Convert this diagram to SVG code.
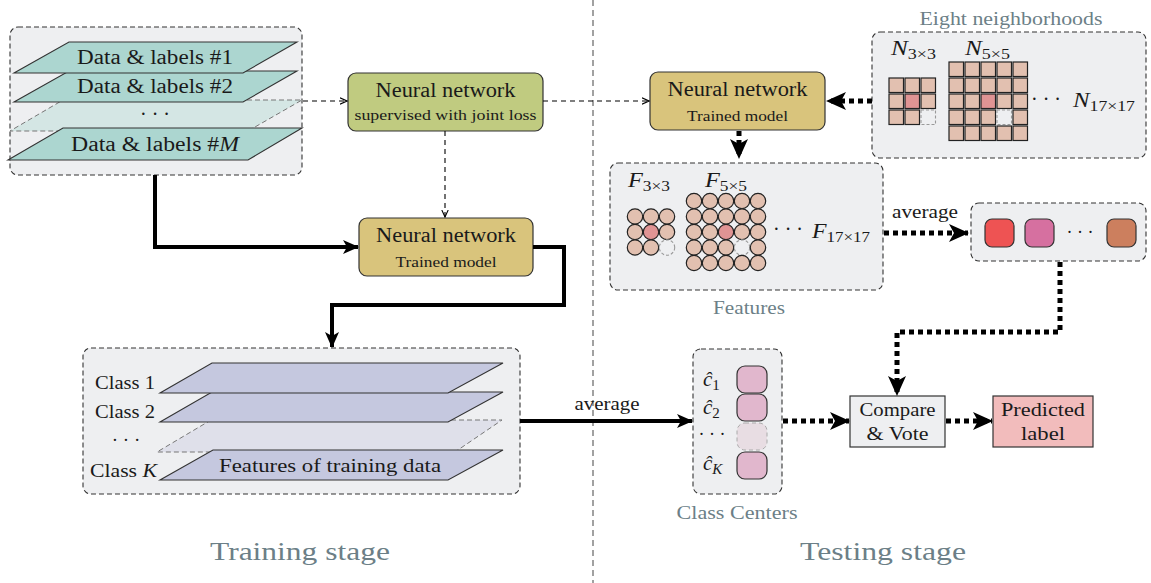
<svg xmlns="http://www.w3.org/2000/svg" width="1151" height="583" viewBox="0 0 1151 583">
<style>
.t{font-family:"Liberation Serif","DejaVu Serif",serif;fill:#1a1a1a}
.i{font-style:italic}
.lbl{fill:#6c7f87}
.cont{fill:#eeeff1;stroke:#333;stroke-width:1.1;stroke-dasharray:5 3}
.box{stroke:#333;stroke-width:1.2}
.pl{fill:#acd6d0;stroke:#333;stroke-width:1.1}
.pc{fill:#c5c8df;stroke:#333;stroke-width:1.1}
.pd{stroke:#777;stroke-width:1;stroke-dasharray:5 3}
.sq{fill:#e2c0b0;stroke:#222;stroke-width:1.2}
.dk{fill:#e09494}
.miss{fill:none;stroke:#999;stroke-width:1.1;stroke-dasharray:3 2}
.thin{fill:none;stroke:#000;stroke-width:1.1;stroke-dasharray:5 4}
.thick{fill:none;stroke:#000;stroke-width:4}
.dots{fill:none;stroke:#000;stroke-width:5;stroke-dasharray:5 4}
.sub{font-size:15px;font-style:normal}
.subi{font-size:15px;font-style:italic}
</style>
<defs>
<marker id="open" viewBox="0 0 8 8" refX="7.5" refY="4" markerWidth="8" markerHeight="8" markerUnits="userSpaceOnUse" orient="auto"><path d="M0.5,0.8 L7.5,4 L0.5,7.2" fill="none" stroke="#000" stroke-width="1.1"/></marker>
<marker id="solid" viewBox="0 0 16 14" refX="15" refY="7" markerWidth="16" markerHeight="14" markerUnits="userSpaceOnUse" orient="auto"><path d="M0,0 L16,7 L0,14 L4,7 Z" fill="#000"/></marker>
<marker id="big" viewBox="0 0 20 18" refX="19" refY="9" markerWidth="20" markerHeight="18" markerUnits="userSpaceOnUse" orient="auto"><path d="M0,0 L20,9 L0,18 L5,9 Z" fill="#000"/></marker>
</defs>

<!-- divider -->
<line x1="593" y1="0" x2="593" y2="583" stroke="#555" stroke-width="1.1" stroke-dasharray="6 4"/>

<!-- Training data -->
<g id="training-data">
<rect class="cont" x="10" y="27" width="292" height="148" rx="8"/>
<polygon points="63,100 302,100 248,131 10,131" fill="#d4e6e4" class="pd"/>
<polygon class="pl" points="63,128 302,128 248,160 8,160"/>
<polygon class="pl" points="69,71 297,71 243,102 14,102"/>
<polygon class="pl" points="69,42 297,42 243,73 14,73"/>
<text class="t" x="155" y="64" font-size="20" text-anchor="middle" textLength="156" lengthAdjust="spacingAndGlyphs">Data &amp; labels #1</text>
<text class="t" x="155" y="93" font-size="20" text-anchor="middle" textLength="156" lengthAdjust="spacingAndGlyphs">Data &amp; labels #2</text>
<text class="t" x="155" y="121" font-size="20" text-anchor="middle">· · ·</text>
<text class="t" x="155" y="151" font-size="20" text-anchor="middle" textLength="168" lengthAdjust="spacingAndGlyphs">Data &amp; labels #<tspan class="i">M</tspan></text>
</g>

<!-- NN supervised -->
<g id="nn-supervised">
<rect class="box" x="348" y="73" width="195" height="58" rx="8" fill="#c0cb80"/>
<text class="t" x="445.5" y="97" font-size="20" text-anchor="middle" textLength="140" lengthAdjust="spacingAndGlyphs">Neural network</text>
<text class="t" x="445.5" y="120" font-size="14" text-anchor="middle" textLength="182" lengthAdjust="spacingAndGlyphs">supervised with joint loss</text>
</g>

<!-- NN trained (training side) -->
<g id="nn-trained-train">
<rect class="box" x="359" y="218" width="174" height="58" rx="8" fill="#d9c47c"/>
<text class="t" x="446" y="242" font-size="20" text-anchor="middle" textLength="140" lengthAdjust="spacingAndGlyphs">Neural network</text>
<text class="t" x="446" y="267" font-size="14" text-anchor="middle" textLength="101" lengthAdjust="spacingAndGlyphs">Trained model</text>
</g>

<!-- Features of training data -->
<g id="train-features">
<rect class="cont" x="83" y="348" width="437" height="146" rx="8"/>
<polygon points="211,420 502,420 455,452 157,452" fill="#dfe0ea" class="pd"/>
<polygon class="pc" points="213,450 503,450 448,480 160,480"/>
<polygon class="pc" points="212,392 503,392 448,422 160,422"/>
<polygon class="pc" points="212,363 503,363 448,393 160,393"/>
<text class="t" x="155" y="389" font-size="19" text-anchor="end" textLength="60" lengthAdjust="spacingAndGlyphs">Class 1</text>
<text class="t" x="155" y="418" font-size="19" text-anchor="end" textLength="60" lengthAdjust="spacingAndGlyphs">Class 2</text>
<text class="t" x="126" y="446" font-size="19" text-anchor="middle">· · ·</text>
<text class="t" x="157" y="477" font-size="19" text-anchor="end" textLength="67" lengthAdjust="spacingAndGlyphs">Class <tspan class="i">K</tspan></text>
<text class="t" x="330" y="472" font-size="19" text-anchor="middle" textLength="222" lengthAdjust="spacingAndGlyphs">Features of training data</text>
</g>

<!-- NN trained (testing side) -->
<g id="nn-trained-test">
<rect class="box" x="650" y="72" width="175" height="58" rx="8" fill="#d9c47c"/>
<text class="t" x="737.5" y="96" font-size="20" text-anchor="middle" textLength="140" lengthAdjust="spacingAndGlyphs">Neural network</text>
<text class="t" x="737.5" y="121" font-size="14" text-anchor="middle" textLength="101" lengthAdjust="spacingAndGlyphs">Trained model</text>
</g>

<!-- Eight neighborhoods -->
<g id="neighborhoods">
<text class="t lbl" x="1011" y="25" font-size="18" text-anchor="middle" textLength="183" lengthAdjust="spacingAndGlyphs">Eight neighborhoods</text>
<rect class="cont" x="872" y="32" width="274" height="126" rx="8"/>
<text class="t" x="891" y="55" font-size="21" textLength="45" lengthAdjust="spacingAndGlyphs"><tspan class="i">N</tspan><tspan class="sub" dy="4">3×3</tspan></text>
<text class="t" x="965" y="55" font-size="21" textLength="45" lengthAdjust="spacingAndGlyphs"><tspan class="i">N</tspan><tspan class="sub" dy="4">5×5</tspan></text>
<g>
<rect class="sq" x="889" y="78" width="14.5" height="14.5"/><rect class="sq" x="905" y="78" width="14.5" height="14.5"/><rect class="sq" x="921" y="78" width="14.5" height="14.5"/>
<rect class="sq" x="889" y="94" width="14.5" height="14.5"/><rect class="sq dk" x="905" y="94" width="14.5" height="14.5"/><rect class="sq" x="921" y="94" width="14.5" height="14.5"/>
<rect class="sq" x="889" y="110" width="14.5" height="14.5"/><rect class="sq" x="905" y="110" width="14.5" height="14.5"/><rect class="miss" x="921" y="110" width="14.5" height="14.5"/>
</g>
<g>
<rect class="sq" x="949" y="62" width="14.5" height="14.5"/><rect class="sq" x="965" y="62" width="14.5" height="14.5"/><rect class="sq" x="981" y="62" width="14.5" height="14.5"/><rect class="sq" x="997" y="62" width="14.5" height="14.5"/><rect class="sq" x="1013" y="62" width="14.5" height="14.5"/>
<rect class="sq" x="949" y="78" width="14.5" height="14.5"/><rect class="sq" x="965" y="78" width="14.5" height="14.5"/><rect class="sq" x="981" y="78" width="14.5" height="14.5"/><rect class="sq" x="997" y="78" width="14.5" height="14.5"/><rect class="sq" x="1013" y="78" width="14.5" height="14.5"/>
<rect class="sq" x="949" y="94" width="14.5" height="14.5"/><rect class="sq" x="965" y="94" width="14.5" height="14.5"/><rect class="sq dk" x="981" y="94" width="14.5" height="14.5"/><rect class="sq" x="997" y="94" width="14.5" height="14.5"/><rect class="sq" x="1013" y="94" width="14.5" height="14.5"/>
<rect class="sq" x="949" y="110" width="14.5" height="14.5"/><rect class="sq" x="965" y="110" width="14.5" height="14.5"/><rect class="sq" x="981" y="110" width="14.5" height="14.5"/><rect class="miss" x="997" y="110" width="14.5" height="14.5"/><rect class="sq" x="1013" y="110" width="14.5" height="14.5"/>
<rect class="sq" x="949" y="126" width="14.5" height="14.5"/><rect class="sq" x="965" y="126" width="14.5" height="14.5"/><rect class="sq" x="981" y="126" width="14.5" height="14.5"/><rect class="sq" x="997" y="126" width="14.5" height="14.5"/><rect class="sq" x="1013" y="126" width="14.5" height="14.5"/>
</g>
<text class="t" x="1046" y="106" font-size="20" text-anchor="middle">· · ·</text>
<text class="t" x="1073" y="107" font-size="21" textLength="62" lengthAdjust="spacingAndGlyphs"><tspan class="i">N</tspan><tspan class="sub" dy="4">17×17</tspan></text>
</g>

<!-- Features (testing) -->
<g id="features">
<rect class="cont" x="610" y="163" width="273" height="127" rx="8"/>
<text class="t lbl" x="749" y="314" font-size="18" text-anchor="middle" textLength="72" lengthAdjust="spacingAndGlyphs">Features</text>
<text class="t" x="628" y="187" font-size="21" textLength="42" lengthAdjust="spacingAndGlyphs"><tspan class="i">F</tspan><tspan class="sub" dy="4">3×3</tspan></text>
<text class="t" x="705" y="187" font-size="21" textLength="42" lengthAdjust="spacingAndGlyphs"><tspan class="i">F</tspan><tspan class="sub" dy="4">5×5</tspan></text>
<g>
<circle class="sq" cx="635" cy="216.5" r="7.7"/><circle class="sq" cx="651" cy="216.5" r="7.7"/><circle class="sq" cx="667" cy="216.5" r="7.7"/>
<circle class="sq" cx="635" cy="232" r="7.7"/><circle class="sq dk" cx="651" cy="232" r="7.7"/><circle class="sq" cx="667" cy="232" r="7.7"/>
<circle class="sq" cx="635" cy="247.5" r="7.7"/><circle class="sq" cx="651" cy="247.5" r="7.7"/><circle class="miss" cx="667" cy="247.5" r="7.7"/>
</g>
<g>
<circle class="sq" cx="694" cy="201" r="7.7"/><circle class="sq" cx="710" cy="201" r="7.7"/><circle class="sq" cx="726" cy="201" r="7.7"/><circle class="sq" cx="742" cy="201" r="7.7"/><circle class="sq" cx="758" cy="201" r="7.7"/>
<circle class="sq" cx="694" cy="216.5" r="7.7"/><circle class="sq" cx="710" cy="216.5" r="7.7"/><circle class="sq" cx="726" cy="216.5" r="7.7"/><circle class="sq" cx="742" cy="216.5" r="7.7"/><circle class="sq" cx="758" cy="216.5" r="7.7"/>
<circle class="sq" cx="694" cy="232" r="7.7"/><circle class="sq" cx="710" cy="232" r="7.7"/><circle class="sq dk" cx="726" cy="232" r="7.7"/><circle class="sq" cx="742" cy="232" r="7.7"/><circle class="sq" cx="758" cy="232" r="7.7"/>
<circle class="sq" cx="694" cy="247.5" r="7.7"/><circle class="sq" cx="710" cy="247.5" r="7.7"/><circle class="sq" cx="726" cy="247.5" r="7.7"/><circle class="miss" cx="742" cy="247.5" r="7.7"/><circle class="sq" cx="758" cy="247.5" r="7.7"/>
<circle class="sq" cx="694" cy="263" r="7.7"/><circle class="sq" cx="710" cy="263" r="7.7"/><circle class="sq" cx="726" cy="263" r="7.7"/><circle class="sq" cx="742" cy="263" r="7.7"/><circle class="sq" cx="758" cy="263" r="7.7"/>
</g>
<text class="t" x="788" y="236" font-size="20" text-anchor="middle">· · ·</text>
<text class="t" x="812" y="238" font-size="21" textLength="58" lengthAdjust="spacingAndGlyphs"><tspan class="i">F</tspan><tspan class="sub" dy="4">17×17</tspan></text>
</g>

<!-- averaged features -->
<g id="avg-features">
<rect class="cont" x="971" y="203" width="175" height="58" rx="8"/>
<rect class="box" x="985" y="219" width="29" height="28" rx="7" fill="#ee5353"/>
<rect class="box" x="1025" y="219" width="29" height="28" rx="7" fill="#d670a0"/>
<text class="t" x="1080" y="238" font-size="18" text-anchor="middle">· · ·</text>
<rect class="box" x="1107" y="219" width="29" height="28" rx="7" fill="#cc7f5e"/>
</g>

<!-- class centers -->
<g id="class-centers">
<rect class="cont" x="693" y="349" width="89" height="145" rx="8"/>
<text class="t lbl" x="737" y="519" font-size="18" text-anchor="middle" textLength="121" lengthAdjust="spacingAndGlyphs">Class Centers</text>
<rect class="box" x="737" y="366" width="30" height="27" rx="8" fill="#e1b7cd"/>
<rect class="box" x="737" y="394" width="30" height="27" rx="8" fill="#e1b7cd"/>
<rect x="737" y="423" width="30" height="27" rx="8" fill="#e8dde3" stroke="#aaa" stroke-width="1" stroke-dasharray="4 3"/>
<rect class="box" x="737" y="452" width="30" height="27" rx="8" fill="#e1b7cd"/>
<text class="t i" x="703" y="386" font-size="21">ĉ<tspan class="sub" dy="4">1</tspan></text>
<text class="t i" x="703" y="414" font-size="21">ĉ<tspan class="sub" dy="4">2</tspan></text>
<text class="t" x="712" y="440" font-size="18" text-anchor="middle">· · ·</text>
<text class="t i" x="703" y="470" font-size="21">ĉ<tspan class="subi" dy="4">K</tspan></text>
</g>

<!-- compare -->
<g id="compare">
<rect class="box" x="850" y="396" width="95" height="51" fill="#eeeff1"/>
<text class="t" x="897.5" y="416" font-size="19" text-anchor="middle" textLength="76" lengthAdjust="spacingAndGlyphs">Compare</text>
<text class="t" x="897.5" y="440" font-size="19" text-anchor="middle" textLength="62" lengthAdjust="spacingAndGlyphs">&amp; Vote</text>
</g>

<!-- predicted -->
<g id="predicted">
<rect class="box" x="993" y="396" width="100" height="51" fill="#f2bcbc"/>
<text class="t" x="1043" y="416" font-size="19" text-anchor="middle" textLength="84" lengthAdjust="spacingAndGlyphs">Predicted</text>
<text class="t" x="1043" y="440" font-size="19" text-anchor="middle" textLength="44" lengthAdjust="spacingAndGlyphs">label</text>
</g>

<!-- connectors -->
<g id="connectors">
<path class="thin" d="M303,101 L347,101" marker-end="url(#open)"/>
<path class="thin" d="M543,101 L649,101" marker-end="url(#open)"/>
<path class="thin" d="M445,131 L445,217" marker-end="url(#open)"/>
<path class="thick" d="M155,175 L155,247 L358,247" marker-end="url(#solid)"/>
<path class="thick" d="M533,247 L564,247 L564,305 L332,305 L332,347" marker-end="url(#solid)"/>
<path class="thick" stroke-width="3.5" d="M520,421 L692,421" marker-end="url(#solid)"/>
<text class="t" x="607" y="410" font-size="18" text-anchor="middle" textLength="65" lengthAdjust="spacingAndGlyphs">average</text>
<path class="dots" d="M872,101 L827,101" marker-end="url(#big)"/>
<path class="dots" d="M739,131 L739,158" marker-end="url(#big)"/>
<path class="dots" d="M884,233 L968,233" marker-end="url(#big)"/>
<text class="t" x="925" y="218" font-size="18" text-anchor="middle" textLength="66" lengthAdjust="spacingAndGlyphs">average</text>
<path class="dots" d="M1060,262 L1060,332 L897,332 L897,395" marker-end="url(#big)"/>
<path class="dots" d="M783,421 L849,421" marker-end="url(#big)"/>
<path class="dots" d="M946,421 L992,421" marker-end="url(#big)"/>
</g>

<text class="t lbl" x="300" y="560" font-size="26" text-anchor="middle" textLength="180" lengthAdjust="spacingAndGlyphs">Training stage</text>
<text class="t lbl" x="883" y="560" font-size="26" text-anchor="middle" textLength="166" lengthAdjust="spacingAndGlyphs">Testing stage</text>
</svg>
